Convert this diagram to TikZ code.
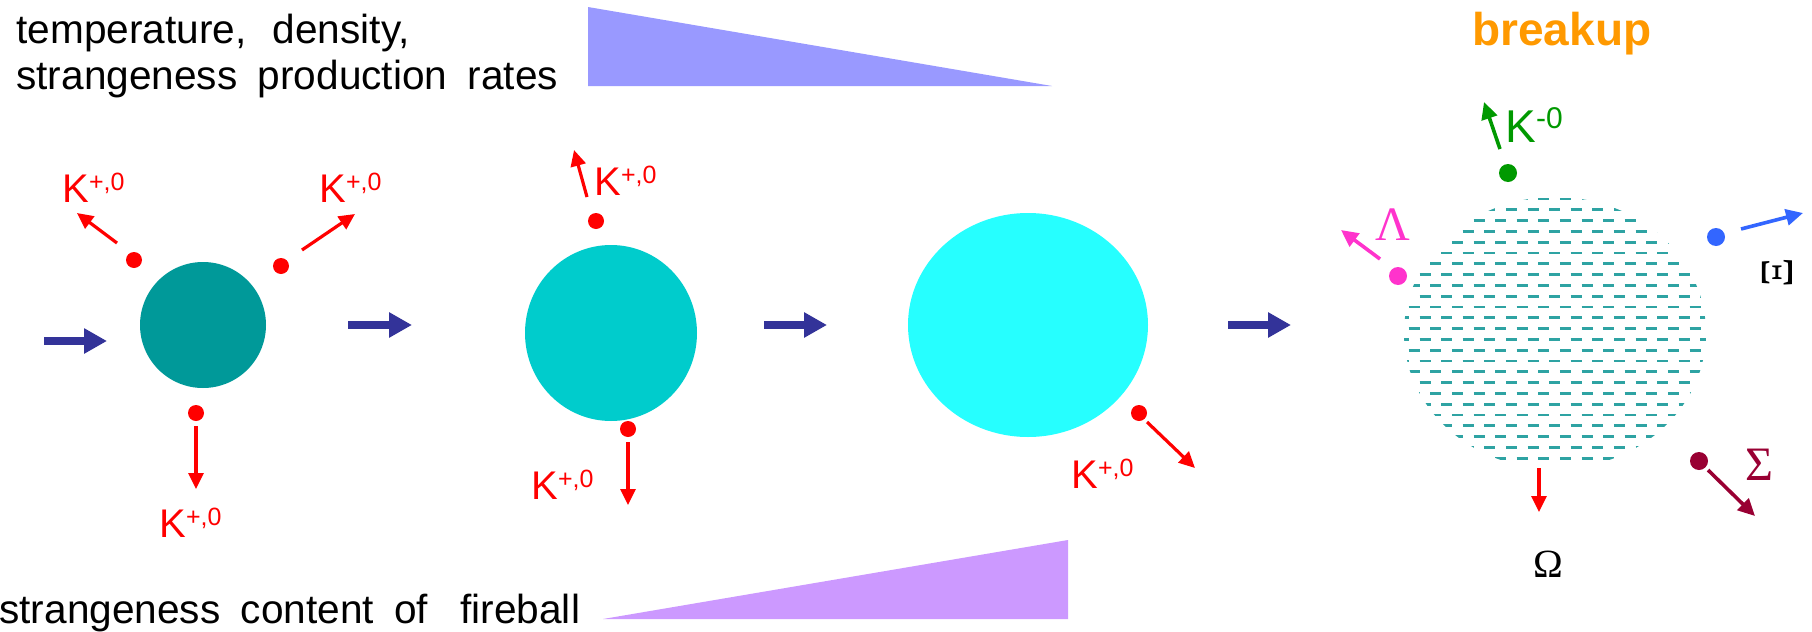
\documentclass[tikz,border=0pt]{standalone}
\usepackage{fontspec}
\setmainfont{Liberation Sans}
\newfontfamily\grfont{Liberation Serif}
\newfontfamily\spacedsans[WordSpace=1.8]{Liberation Sans}
\usetikzlibrary{arrows.meta,shapes.geometric}

\definecolor{kred}{HTML}{FF0000}
\definecolor{flowblue}{HTML}{333399}
\definecolor{fbone}{HTML}{009999}
\definecolor{fbtwo}{HTML}{00CCCC}
\definecolor{fbthree}{HTML}{26FFFF}
\definecolor{hatchcol}{HTML}{2EA3A3}
\definecolor{topwedge}{HTML}{9999FF}
\definecolor{botwedge}{HTML}{CC99FF}
\definecolor{breakcol}{HTML}{FF9900}
\definecolor{kgreen}{HTML}{009900}
\definecolor{lammag}{HTML}{FF33CC}
\definecolor{xiblue}{HTML}{3366FF}
\definecolor{sigred}{HTML}{990033}

\newcommand{\Kpz}{K\raisebox{5.8pt}{\fontsize{12.5pt}{12.5pt}\selectfont +,0}}
\newcommand{\Kmz}{K\raisebox{6.7pt}{\fontsize{15pt}{15pt}\selectfont -0}}

\tikzset{
  pdot/.style={circle, fill=#1, inner sep=0pt, minimum size=8pt},
  bdot/.style={circle, fill=#1, inner sep=0pt, minimum size=9pt},
  particle/.style={draw=#1, line width=1.6pt, -{Triangle[length=8pt,width=7.5pt]}},
  bparticle/.style={draw=#1, line width=1.8pt, -{Triangle[length=8.5pt,width=8pt]}},
  flow/.style={draw=flowblue, line width=4pt, -{Triangle[length=11.5pt,width=12pt]}},
  klabel/.style={text=kred, inner sep=0pt, anchor=base west, font=\fontsize{20pt}{24pt}\selectfont},
  grlabel/.style={inner sep=0pt, anchor=base, font=\grfont\fontsize{24pt}{28pt}\selectfont},
  plaintext/.style={inner sep=0pt, anchor=base west, font=\spacedsans\fontsize{20.3pt}{23pt}\selectfont},
  hatch/.style={draw=hatchcol, line width=1.35pt, dash pattern=on 5.5pt off 5.3pt},
  fireball/.style={ellipse, inner sep=0pt, fill=#1}
}

\begin{document}
\begin{tikzpicture}[x=0.5pt,y=-0.5pt]
\useasboundingbox (0,0) rectangle (1812,632);

% wedges
\fill[topwedge] (588,7) -- (588,86) -- (1052,86) -- cycle;
\fill[botwedge] (603,619) -- (1068,619) -- (1068,540) -- cycle;

% texts
\node[plaintext] (t1) at (16,43) {temperature,\hspace{3pt} density,};
\node[plaintext] (t2) at (16,89) {strangeness production rates};
\node[plaintext] (t3) at (-1,623) {strangeness content of\hspace{6pt} fireball};
\node[inner sep=0pt, anchor=base west, text=breakcol, font=\bfseries\fontsize{23pt}{27pt}\selectfont] (brk) at (1472,45) {breakup};

% fireballs
\node[fireball=fbone, minimum width=63pt, minimum height=63pt] (C1) at (203,325) {};
\node[fireball=fbtwo, minimum width=86pt, minimum height=88pt] (C2) at (611,333) {};
\node[fireball=fbthree, minimum width=120pt, minimum height=112pt] (C3) at (1028,325) {};
\node[ellipse, inner sep=0pt, minimum width=151pt, minimum height=136pt] (C4) at (1555,333) {};
\begin{scope}
  \clip (1555,333) ellipse [x radius=151, y radius=136];
  \foreach \i in {0,...,24}{
    \pgfmathsetmacro{\yy}{199+10.8*\i}
    \pgfmathsetmacro{\xx}{1387.1-10.8*mod(\i,2)}
    \draw[hatch] (\xx,\yy) -- (1730,\yy);
  }
\end{scope}

% flow arrows
\coordinate (f1s) at (44,341);  \coordinate (f1e) at (107,341);
\coordinate (f2s) at (348,325); \coordinate (f2e) at (412,325);
\coordinate (f3s) at (764,325); \coordinate (f3e) at (827,325);
\coordinate (f4s) at (1228,325); \coordinate (f4e) at (1291,325);
\draw[flow] (f1s) -- (f1e);
\draw[flow] (f2s) -- (f2e);
\draw[flow] (f3s) -- (f3e);
\draw[flow] (f4s) -- (f4e);

% fireball 1 kaons
\node[pdot=kred] (d1a) at (134,260) {};
\coordinate (a1as) at (117,243); \coordinate (a1ae) at (77,213);
\draw[particle=kred] (a1as) -- (a1ae);
\node[klabel] (k1a) at (62,202) {\Kpz};

\node[pdot=kred] (d1b) at (281,266) {};
\coordinate (a1bs) at (302,250); \coordinate (a1be) at (355,214);
\draw[particle=kred] (a1bs) -- (a1be);
\node[klabel] (k1b) at (319,202) {\Kpz};

\node[pdot=kred] (d1c) at (196,413) {};
\coordinate (a1cs) at (196,426); \coordinate (a1ce) at (196,489);
\draw[particle=kred] (a1cs) -- (a1ce);
\node[klabel] (k1c) at (159,537) {\Kpz};

% fireball 2 kaons
\node[pdot=kred] (d2a) at (596,221) {};
\coordinate (a2as) at (587,197); \coordinate (a2ae) at (574,150);
\draw[particle=kred] (a2as) -- (a2ae);
\node[klabel] (k2a) at (594,195) {\Kpz};

\node[pdot=kred] (d2b) at (628,429) {};
\coordinate (a2bs) at (628,442); \coordinate (a2be) at (628,505);
\draw[particle=kred] (a2bs) -- (a2be);
\node[klabel] (k2b) at (531,499) {\Kpz};

% fireball 3 kaon
\node[pdot=kred] (d3) at (1139,413) {};
\coordinate (a3s) at (1147,422); \coordinate (a3e) at (1195,468);
\draw[particle=kred] (a3s) -- (a3e);
\node[klabel] (k3) at (1071,488) {\Kpz};

% breakup particles
\node[bdot=kgreen] (dk) at (1508,173) {};
\coordinate (aks) at (1500,149); \coordinate (ake) at (1484,102);
\draw[bparticle=kgreen] (aks) -- (ake);
\node[klabel, text=kgreen, font=\fontsize{23pt}{27pt}\selectfont] (kk) at (1505,142) {\Kmz};

\node[bdot=lammag] (dl) at (1398,276) {};
\coordinate (als) at (1380,259); \coordinate (ale) at (1341,230);
\draw[bparticle=lammag] (als) -- (ale);
\node[grlabel, text=lammag] (ll) at (1393,240) {Λ};

\node[bdot=xiblue] (dx) at (1716,237) {};
\coordinate (axs) at (1741,229); \coordinate (axe) at (1803,213);
\draw[bparticle=xiblue] (axs) -- (axe);
\node[inner sep=0pt, rotate=90, font=\grfont\fontsize{23pt}{27pt}\selectfont] (lx) at (1777,273) {Ξ};

\node[bdot=sigred] (ds) at (1699,461) {};
\coordinate (ass) at (1708,470); \coordinate (ase) at (1755,516);
\draw[bparticle=sigred] (ass) -- (ase);
\node[grlabel, text=sigred] (ls) at (1759,480) {Σ};

\coordinate (aos) at (1539,468); \coordinate (aoe) at (1539,512);
\draw[particle=kred] (aos) -- (aoe);
\node[grlabel, font=\grfont\fontsize{20pt}{24pt}\selectfont] (lo) at (1548,577) {Ω};

\end{tikzpicture}
\end{document}
